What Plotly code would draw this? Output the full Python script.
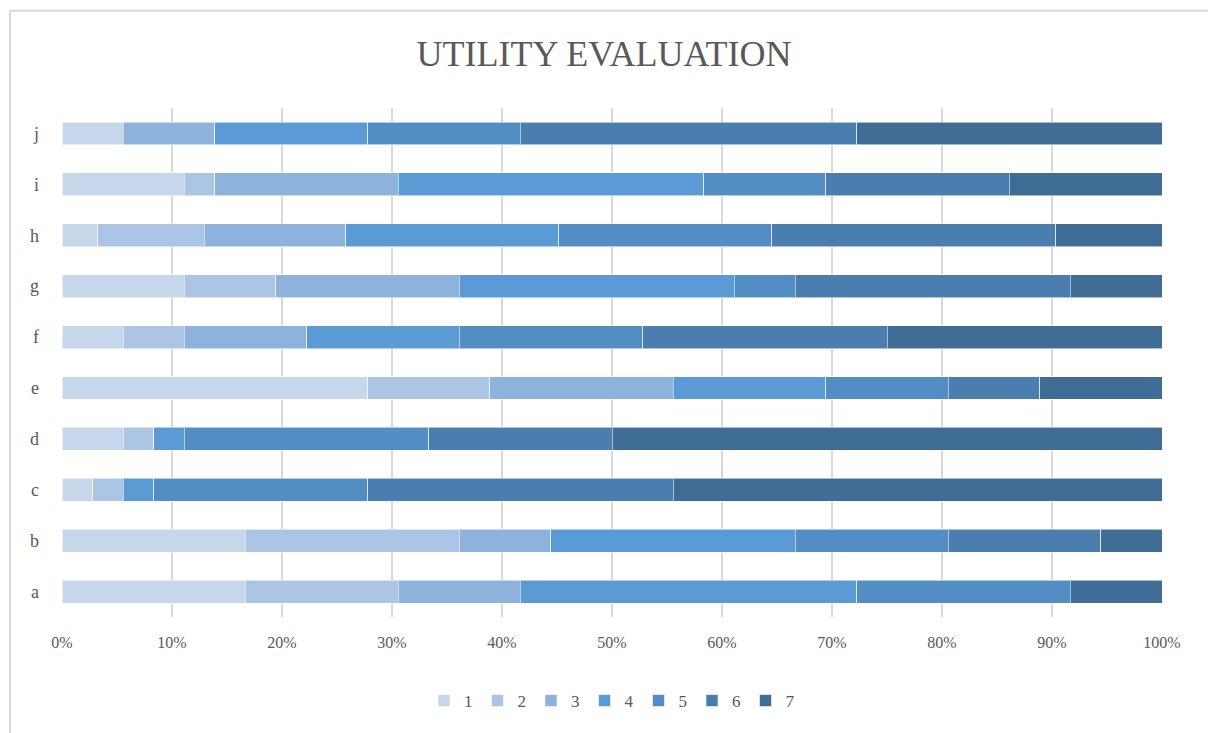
import plotly.graph_objects as go

categories = ["a", "b", "c", "d", "e", "f", "g", "h", "i", "j"]
series_names = ["1", "2", "3", "4", "5", "6", "7"]

# share of responses per category (percent)
s1 = [16.67, 16.67, 2.78, 5.56, 27.78, 5.56, 11.11, 3.23, 11.11, 5.56]
s2 = [13.89, 19.44, 2.78, 2.78, 11.11, 5.56, 8.33, 9.68, 2.78, 0.0]
s3 = [11.11, 8.33, 0.0, 0.0, 16.67, 11.11, 16.67, 12.90, 16.67, 8.33]
s4 = [30.56, 22.22, 2.78, 2.78, 13.89, 13.89, 25.00, 19.35, 27.78, 13.89]
s5 = [19.44, 13.89, 19.44, 22.22, 11.11, 16.67, 5.56, 19.35, 11.11, 13.89]
s6 = [0.0, 13.89, 27.78, 16.67, 8.33, 22.22, 25.00, 25.81, 16.67, 30.56]
s7 = [8.33, 5.56, 44.44, 50.00, 11.11, 25.00, 8.33, 9.68, 13.89, 27.78]

tick_vals = [0, 10, 20, 30, 40, 50, 60, 70, 80, 90, 100]
tick_text = ["0%", "10%", "20%", "30%", "40%", "50%", "60%", "70%", "80%", "90%", "100%"]

colors = ["#c6d7ec", "#adc5e5", "#8db2dc", "#5b9bd5", "#528ec3", "#4a7eaf", "#406d96"]
font = "Liberation Serif, DejaVu Serif, serif"

fig = go.Figure()

for name, vals, col in zip(series_names, [s1, s2, s3, s4, s5, s6, s7], colors):
    fig.add_trace(
        go.Bar(
            y=categories,
            x=vals,
            name=name,
            orientation="h",
            marker=dict(color=col, line=dict(color="rgba(255,255,255,0.55)", width=1)),
        )
    )

# outer chart border (top and left visible in the original)
fig.add_shape(
    type="rect", xref="paper", yref="paper",
    x0=-0.0473, x1=1.06, y0=-0.25, y1=1.191,
    line=dict(color="#d9d9d9", width=2), fillcolor="rgba(0,0,0,0)", layer="below",
)

fig.update_layout(
    barmode="stack",
    bargap=0.55,
    width=1208,
    height=733,
    margin=dict(l=62, r=46, t=107.5, b=115.5),
    paper_bgcolor="white",
    plot_bgcolor="white",
    font=dict(family=font, color="#595959"),
    title=dict(
        text="UTILITY EVALUATION",
        x=0.5, xanchor="center", y=0.927, yanchor="middle",
        font=dict(size=36, color="#595959", family=font),
    ),
    xaxis=dict(
        range=[0, 100],
        tickvals=tick_vals,
        ticktext=tick_text,
        showgrid=True,
        gridcolor="#d9d9d9",
        gridwidth=2,
        zeroline=False,
        showline=False,
        ticks="",
        tickfont=dict(size=16, color="#595959"),
        ticklabelstandoff=14,
    ),
    yaxis=dict(
        categoryorder="array",
        categoryarray=categories,
        showgrid=False,
        zeroline=False,
        showline=False,
        ticks="",
        tickfont=dict(size=18, color="#595959"),
        ticklabelstandoff=22,
    ),
    legend=dict(
        orientation="h",
        x=0.5, xanchor="center",
        y=-0.165, yanchor="middle",
        font=dict(size=17, color="#595959"),
        traceorder="normal",
        itemwidth=30,
    ),
    showlegend=True,
)

fig.write_html(
    "out.html",
    config={"displayModeBar": False},
    post_script="document.body.style.margin='0';",
)
